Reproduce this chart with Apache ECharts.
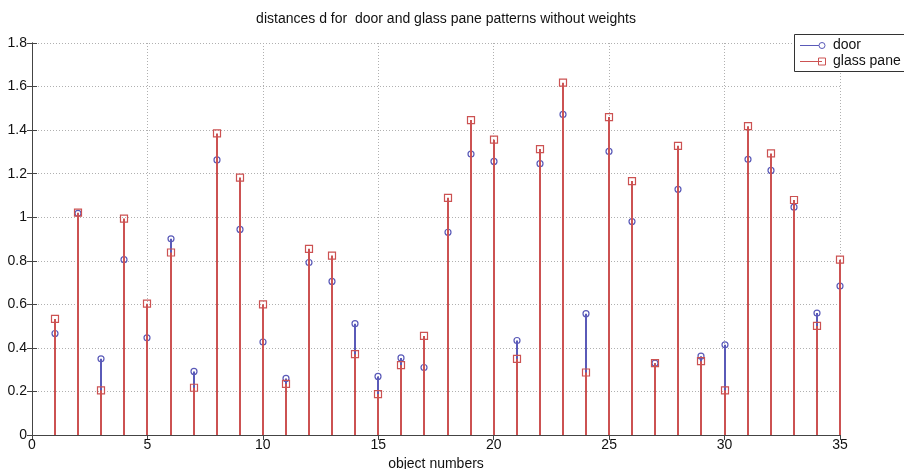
<!DOCTYPE html>
<html>
<head>
<meta charset="utf-8">
<script src="https://cdn.jsdelivr.net/npm/echarts@6/dist/echarts.min.js"></script>
<style>html,body{margin:0;padding:0;background:#fff}#c{width:904px;height:469px}</style>
</head>
<body>
<div id="c"></div>
<script>
const objectNumbers = [1,2,3,4,5,6,7,8,9,10,11,12,13,14,15,16,17,18,19,20,21,22,23,24,25,26,27,28,29,30,31,32,33,34,35];
const doorValues = [0.466,1.018,0.350,0.805,0.446,0.901,0.292,1.263,0.944,0.427,0.260,0.792,0.705,0.511,0.269,0.354,0.310,0.931,1.290,1.256,0.434,1.246,1.472,0.557,1.302,0.980,0.330,1.128,0.362,0.414,1.266,1.215,1.046,0.560,0.684];
const glassValues = [0.533,1.021,0.205,0.994,0.603,0.838,0.217,1.385,1.182,0.600,0.235,0.855,0.824,0.371,0.188,0.321,0.455,1.089,1.446,1.356,0.350,1.313,1.618,0.287,1.460,1.166,0.330,1.328,0.339,0.205,1.418,1.293,1.079,0.501,0.805];
const seriesNames = ['door', 'glass pane'];
const titleText = 'distances d for  door and glass pane patterns without weights';
const xAxisTitle = 'object numbers';

const BLUE = '#5a5ab8';
const RED = '#cc5252';
const FONT = 'Arial, "Liberation Sans", Helvetica, sans-serif';

function stemSeries(name, values, color, marker, z) {
  return {
    type: 'custom',
    name: name,
    z: z,
    data: objectNumbers.map((x, i) => [x, values[i]]),
    encode: { x: 0, y: 1 },
    clip: false,
    renderItem: function (params, api) {
      const x = api.value(0), y = api.value(1);
      const p0 = api.coord([x, 0]);
      const p1 = api.coord([x, y]);
      const px = Math.round(p0[0]);
      const children = [{
        type: 'line', z2: 1,
        shape: { x1: px, y1: Math.round(p0[1]), x2: px, y2: p1[1] },
        style: { stroke: color, lineWidth: 2 }
      }];
      if (marker === 'circle') {
        children.push({ type: 'circle', z2: 2, shape: { cx: px, cy: p1[1], r: 3 }, style: { fill: null, stroke: color, lineWidth: 1.2 } });
      } else {
        children.push({ type: 'rect', z2: 2, shape: { x: px - 3.5, y: p1[1] - 3.5, width: 7, height: 7 }, style: { fill: null, stroke: color, lineWidth: 1.2 } });
      }
      return { type: 'group', children: children };
    }
  };
}

const chart = echarts.init(document.getElementById('c'), null, { renderer: 'canvas' });
const axisCol = '#444';
const labelStyle = { color: '#111', fontSize: 14, fontFamily: FONT };
chart.setOption({
  animation: false,
  backgroundColor: '#fff',
  title: {
    text: titleText,
    left: 441, top: 7, textAlign: 'center',
    textStyle: { fontSize: 14, fontWeight: 'normal', color: '#111', fontFamily: FONT }
  },
  grid: { left: 32, right: 64, top: 43, bottom: 34, containLabel: false, outerBoundsMode: 'none' },
  xAxis: [{
    type: 'value', min: 0, max: 35, interval: 5,
    name: xAxisTitle, nameLocation: 'middle', nameGap: 20,
    nameTextStyle: { fontSize: 14, color: '#111', fontFamily: FONT },
    axisLine: { show: true, lineStyle: { color: axisCol, width: 1 } },
    axisTick: { show: true, inside: true, length: 5, lineStyle: { color: axisCol } },
    axisLabel: Object.assign({ margin: 3 }, labelStyle),
    splitLine: { show: true, lineStyle: { color: '#b0b0b0', type: [1, 2], width: 1 } }
  }, {
    type: 'value', min: 0, max: 35, interval: 5, position: 'top',
    axisLine: { show: true, lineStyle: { color: axisCol, width: 1 } },
    axisTick: { show: true, inside: true, length: 5, lineStyle: { color: axisCol } },
    axisLabel: { show: false }, splitLine: { show: false }
  }],
  yAxis: [{
    type: 'value', min: 0, max: 1.8, interval: 0.2,
    axisLine: { show: true, lineStyle: { color: axisCol, width: 1 } },
    axisTick: { show: true, inside: true, length: 5, lineStyle: { color: axisCol } },
    axisLabel: Object.assign({ margin: 5 }, labelStyle),
    splitLine: { show: true, lineStyle: { color: '#b0b0b0', type: [1, 2], width: 1 } }
  }, {
    type: 'value', min: 0, max: 1.8, interval: 0.2, position: 'right',
    axisLine: { show: true, lineStyle: { color: axisCol, width: 1 } },
    axisTick: { show: true, inside: true, length: 5, lineStyle: { color: axisCol } },
    axisLabel: { show: false }, splitLine: { show: false }
  }],
  series: [
    stemSeries(seriesNames[0], doorValues, BLUE, 'circle', 5),
    stemSeries(seriesNames[1], glassValues, RED, 'square', 6)
  ],
  graphic: [
    { type: 'rect', shape: { x: 794.5, y: 34.5, width: 130, height: 37 }, style: { fill: '#fff', stroke: '#333', lineWidth: 1 }, z: 100 },
    { type: 'line', shape: { x1: 800, y1: 45.5, x2: 819, y2: 45.5 }, style: { stroke: BLUE, lineWidth: 1 }, z: 101 },
    { type: 'circle', shape: { cx: 822, cy: 45.5, r: 3 }, style: { fill: null, stroke: BLUE, lineWidth: 1 }, z: 101 },
    { type: 'line', shape: { x1: 800, y1: 61.5, x2: 822, y2: 61.5 }, style: { stroke: RED, lineWidth: 1 }, z: 101 },
    { type: 'rect', shape: { x: 818.5, y: 58, width: 7, height: 7 }, style: { fill: null, stroke: RED, lineWidth: 1 }, z: 101 },
    { type: 'text', x: 833, y: 45, style: { text: seriesNames[0], fill: '#111', fontSize: 14, fontFamily: FONT, verticalAlign: 'middle' }, z: 101 },
    { type: 'text', x: 833, y: 61, style: { text: seriesNames[1], fill: '#111', fontSize: 14, fontFamily: FONT, verticalAlign: 'middle' }, z: 101 }
  ]
});
</script>
</body>
</html>
